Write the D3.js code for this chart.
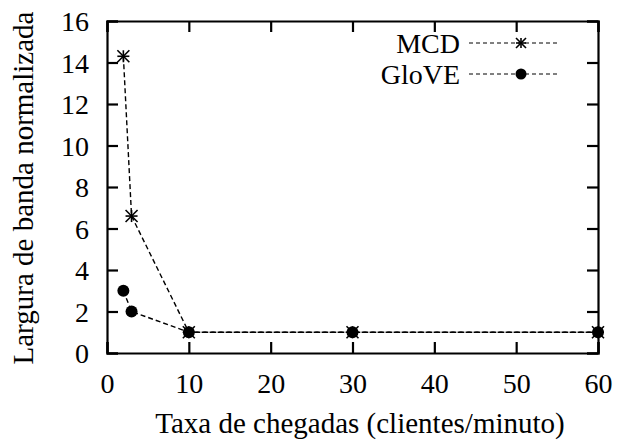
<!DOCTYPE html>
<html><head><meta charset="utf-8">
<script src="https://cdn.jsdelivr.net/npm/d3@7"></script>
<style>body{margin:0;background:#fff}svg{display:block}</style>
</head><body>
<script>
const xValues = [2, 3, 10, 30, 60];
const mcdValues = [14.3, 6.6, 1, 1, 1];
const gloveValues = [3, 2, 1, 1, 1];
const xTicks = [0, 10, 20, 30, 40, 50, 60];
const yTicks = [0, 2, 4, 6, 8, 10, 12, 14, 16];
const seriesNames = ["MCD", "GloVE"];

const W = 617, H = 447;
const m = {left: 107, right: 19, top: 21, bottom: 94};
const svg = d3.select("body").append("svg").attr("width", W).attr("height", H);
const FS = 28;
const FF = "'Liberation Serif'";
const x = d3.scaleLinear().domain([0, 60]).range([m.left, W - m.right]);
const y = d3.scaleLinear().domain([0, 16]).range([H - m.bottom, m.top]);

function txt(sel, fs) { return sel.style("font-family", FF).style("font-size", (fs || FS) + "px").attr("fill", "#000"); }

const tl = 11;
const g = svg.append("g");
const xb = g.append("g").attr("transform", `translate(0,${y(0)})`)
  .call(d3.axisBottom(x).tickValues(xTicks).tickSize(-tl).tickPadding(20));
const xt = g.append("g").attr("transform", `translate(0,${y(16)})`)
  .call(d3.axisTop(x).tickValues(xTicks).tickSize(-tl).tickFormat(""));
const yl = g.append("g").attr("transform", `translate(${x(0)},0)`)
  .call(d3.axisLeft(y).tickValues(yTicks).tickSize(-tl).tickPadding(18));
const yr = g.append("g").attr("transform", `translate(${x(60)},0)`)
  .call(d3.axisRight(y).tickValues(yTicks).tickSize(-tl).tickFormat(""));
[xb, xt, yl, yr].forEach(a => {
  a.select(".domain").attr("stroke", "#000").attr("stroke-width", 2.2);
  a.selectAll(".tick line").attr("stroke", "#000").attr("stroke-width", 2.2);
  txt(a.selectAll("text"));
});
xb.selectAll("text").attr("dy", "0.71em");
yl.selectAll("text").attr("dy", "0.35em");

txt(svg.append("text").attr("x", 360).attr("y", 433).attr("text-anchor", "middle"), 29)
  .text("Taxa de chegadas (clientes/minuto)");
txt(svg.append("text").attr("transform", `translate(33,188) rotate(-90)`)
  .attr("text-anchor", "middle"), 29)
  .text("Largura de banda normalizada");

const line = d3.line().x(d => x(d[0])).y(d => y(d[1]));
const mcd = xValues.map((v, i) => [v, mcdValues[i]]);
const glove = xValues.map((v, i) => [v, gloveValues[i]]);

function star(sel, cx, cy, r) {
  const gg = sel.append("g").attr("stroke", "#000").attr("stroke-width", 1.6);
  gg.append("line").attr("x1", cx - r).attr("x2", cx + r).attr("y1", cy).attr("y2", cy);
  gg.append("line").attr("x1", cx).attr("x2", cx).attr("y1", cy - r).attr("y2", cy + r);
  gg.append("line").attr("x1", cx - r).attr("x2", cx + r).attr("y1", cy - r).attr("y2", cy + r);
  gg.append("line").attr("x1", cx - r).attr("x2", cx + r).attr("y1", cy + r).attr("y2", cy - r);
}

[mcd, glove].forEach(data => {
  svg.append("path").datum(data).attr("d", line).attr("fill", "none")
    .attr("stroke", "#000").attr("stroke-width", 1.4).attr("stroke-dasharray", "5,3");
});
glove.forEach(d => svg.append("circle").attr("cx", x(d[0])).attr("cy", y(d[1])).attr("r", 6).attr("fill", "#000"));
mcd.forEach(d => star(svg, x(d[0]), y(d[1]), 6));

const lg = [{name: seriesNames[0], yy: 43, type: "star"}, {name: seriesNames[1], yy: 74, type: "circle"}];
lg.forEach(l => {
  txt(svg.append("text").attr("x", 460).attr("y", l.yy).attr("dy", "0.35em").attr("text-anchor", "end"))
    .text(l.name);
  svg.append("line").attr("x1", 469).attr("x2", 558).attr("y1", l.yy).attr("y2", l.yy)
    .attr("stroke", "#000").attr("stroke-width", 1).attr("stroke-dasharray", "4,3");
  if (l.type === "star") star(svg, 521, l.yy, 5);
  else svg.append("circle").attr("cx", 521).attr("cy", l.yy).attr("r", 5.5).attr("fill", "#000");
});
</script>
</body></html>
